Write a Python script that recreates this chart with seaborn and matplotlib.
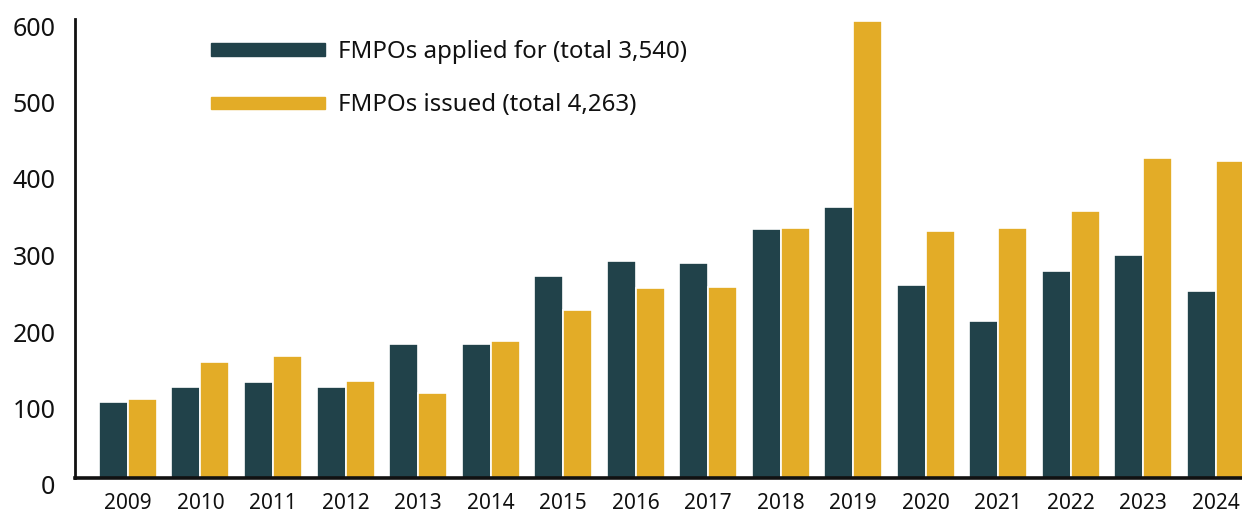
import matplotlib
matplotlib.use("Agg")
import matplotlib.pyplot as plt
import matplotlib.transforms as mtransforms
import seaborn as sns
import pandas as pd

years = ["2009", "2010", "2011", "2012", "2013", "2014", "2015", "2016",
         "2017", "2018", "2019", "2020", "2021", "2022", "2023", "2024"]
applied = [100, 119, 125, 119, 175, 175, 264, 284, 281, 325, 354, 252, 205, 271, 291, 244]
issued = [103, 152, 160, 127, 111, 179, 220, 248, 250, 327, 598, 323, 327, 349, 418, 414]
series_names = ["FMPOs applied for (total 3,540)", "FMPOs issued (total 4,263)"]
y_ticks = [0, 100, 200, 300, 400, 500, 600]

colors = ["#21424A", "#E3AC27"]

df = pd.DataFrame({
    "year": years * 2,
    "value": applied + issued,
    "series": [series_names[0]] * len(years) + [series_names[1]] * len(years),
})

sns.set_style("white")
plt.rcParams["font.family"] = ["Noto Sans", "DejaVu Sans"]

fig = plt.figure(figsize=(12.42, 5.14), dpi=100)
ax = fig.add_axes([75 / 1242, 1 - 478 / 514, 1 - 75 / 1242, (478 - 19) / 514])

sns.barplot(data=df, x="year", y="value", hue="series", order=years,
            hue_order=series_names, palette=colors, width=0.8,
            edgecolor="white", linewidth=1.2, ax=ax, saturation=1)

ax.set_ylim(0, 600)
ax.set_xlim(-0.73, 15.36)
ax.set_yticks(y_ticks)
ax.set_yticklabels([str(v) for v in y_ticks])
ax.set_xlabel("")
ax.set_ylabel("")

for side in ["top", "right"]:
    ax.spines[side].set_visible(False)
ax.spines["left"].set_linewidth(2)
ax.spines["left"].set_color("#111111")
ax.spines["bottom"].set_linewidth(2.6)
ax.spines["bottom"].set_color("#111111")

ax.tick_params(axis="y", direction="in", length=6, width=2, color="#111111",
               labelsize=18, pad=14, labelcolor="#111111")
ax.tick_params(axis="x", length=0, labelsize=15, pad=11, labelcolor="#111111")

offset = mtransforms.ScaledTranslation(0, -7 / 100, fig.dpi_scale_trans)
for lab in ax.get_yticklabels():
    lab.set_transform(lab.get_transform() + offset)

ax.get_legend().remove()
handles = [plt.Rectangle((0, 0), 1, 1, color=c) for c in colors]
fig.legend(handles, series_names, loc="upper left",
           bbox_to_anchor=(211 / 1242, 1 - 40 / 514), frameon=False,
           fontsize=17.3, handlelength=4.75, handleheight=0.42,
           handletextpad=0.55, labelspacing=1.22, borderpad=0, borderaxespad=0,
           labelcolor="#111111")

fig.savefig("out.png", dpi=100)
